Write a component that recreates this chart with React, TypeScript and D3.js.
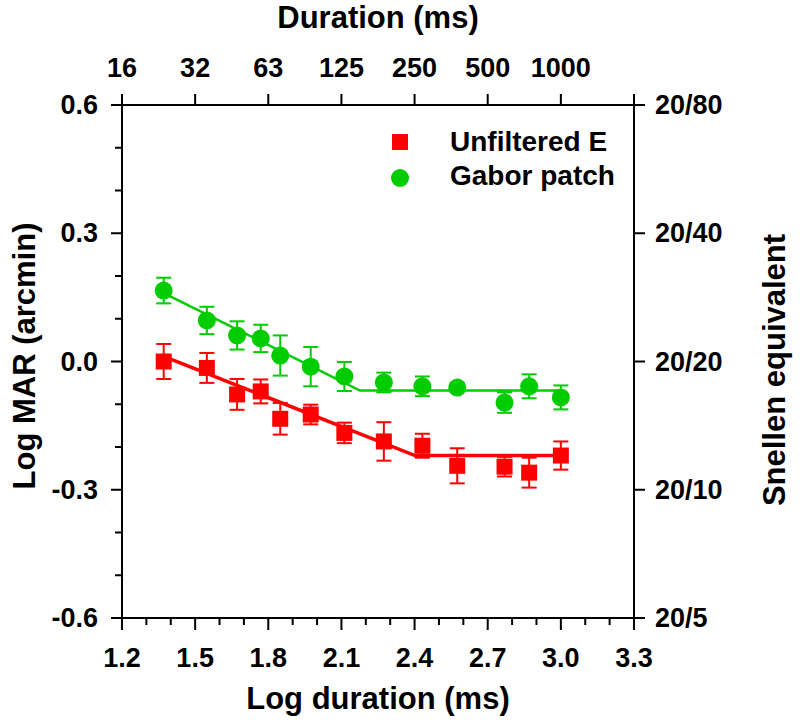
import React from "react";
import * as d3 from "d3";

// ---- data ----
const logDuration = [1.371, 1.548, 1.672, 1.769, 1.849, 1.974, 2.112, 2.274, 2.432, 2.575, 2.769, 2.87, 3.0];
const unfilteredMAR = [0.0, -0.015, -0.077, -0.07, -0.134, -0.124, -0.167, -0.187, -0.197, -0.244, -0.246, -0.26, -0.22];
const unfilteredErr = [0.041, 0.035, 0.036, 0.028, 0.037, 0.023, 0.024, 0.045, 0.028, 0.041, 0.023, 0.035, 0.033];
const gaborMAR = [0.166, 0.096, 0.061, 0.054, 0.014, -0.012, -0.035, -0.049, -0.058, -0.061, -0.096, -0.058, -0.084];
const gaborErr = [0.03, 0.032, 0.033, 0.032, 0.047, 0.046, 0.034, 0.023, 0.023, 0.01, 0.024, 0.028, 0.028];

const unfilteredFitX = [1.371, 2.402, 3.0];
const unfilteredFitY = [0.012, -0.22, -0.22];
const gaborFitX = [1.371, 2.176, 3.0];
const gaborFitY = [0.16, -0.068, -0.068];

const xMajorTicks = [1.2, 1.5, 1.8, 2.1, 2.4, 2.7, 3.0, 3.3];
const xMinorTicks = [1.3, 1.4, 1.6, 1.7, 1.9, 2.0, 2.2, 2.3, 2.5, 2.6, 2.8, 2.9, 3.1, 3.2];
const topTickLabels = ["16", "32", "63", "125", "250", "500", "1000", ""];
const yMajorTicks = [0.6, 0.3, 0.0, -0.3, -0.6];
const yMinorTicks = [0.5, 0.4, 0.2, 0.1, -0.1, -0.2, -0.4, -0.5];
const snellenLabels = ["20/80", "20/40", "20/20", "20/10", "20/5"];

const seriesNames = ["Unfiltered E", "Gabor patch"];
const RED = "#ff0000";
const GREEN = "#00cc00";
const FONT = "'Liberation Sans', Arial, Helvetica, sans-serif";

const fmt = (v: number) => (Math.abs(v) < 1e-9 ? "0.0" : v.toFixed(1));

export default function App() {
  const W = 800, H = 725;
  const x = d3.scaleLinear().domain([1.2, 3.3]).range([122, 634]);
  const y = d3.scaleLinear().domain([-0.6, 0.6]).range([618, 105]);
  const [x0, x1] = x.range();
  const [y0, y1] = y.range();

  const line = d3
    .line<[number, number]>()
    .x((d) => x(d[0]))
    .y((d) => y(d[1]));

  const redFit = unfilteredFitX.map((v, i) => [v, unfilteredFitY[i]] as [number, number]);
  const greenFit = gaborFitX.map((v, i) => [v, gaborFitY[i]] as [number, number]);

  const cap = 7.5;

  return (
    <svg
      width={W}
      height={H}
      style={{ position: "absolute", left: 0, top: 0, background: "#fff" }}
      fontFamily={FONT}
      fontWeight="bold"
    >
      <rect x={0} y={0} width={W} height={H} fill="#fff" />

      {/* frame */}
      <g stroke="#000" strokeWidth={2} fill="none">
        <line x1={x0} x2={x1} y1={y0} y2={y0} />
        <line x1={x0} x2={x1} y1={y1} y2={y1} />
        <line x1={x0} x2={x0} y1={y1} y2={y0} />
        <line x1={x1} x2={x1} y1={y1} y2={y0} />
        {xMajorTicks.map((t) => (
          <line key={"bm" + t} x1={x(t)} x2={x(t)} y1={y0} y2={y0 + 12} />
        ))}
        {xMinorTicks.map((t) => (
          <line key={"bn" + t} x1={x(t)} x2={x(t)} y1={y0} y2={y0 + 7} />
        ))}
        {xMajorTicks.map((t) => (
          <line key={"tm" + t} x1={x(t)} x2={x(t)} y1={y1} y2={y1 - 11} />
        ))}
        {yMajorTicks.map((t) => (
          <line key={"lm" + t} x1={x0} x2={x0 - 11} y1={y(t)} y2={y(t)} />
        ))}
        {yMinorTicks.map((t) => (
          <line key={"ln" + t} x1={x0} x2={x0 - 7} y1={y(t)} y2={y(t)} />
        ))}
        {yMajorTicks.map((t) => (
          <line key={"rm" + t} x1={x1} x2={x1 + 11} y1={y(t)} y2={y(t)} />
        ))}
      </g>

      {/* bottom tick labels */}
      <g fontSize={27} textAnchor="middle" fill="#000">
        {xMajorTicks.map((t) => (
          <text key={"bl" + t} x={x(t)} y={667}>
            {fmt(t)}
          </text>
        ))}
      </g>
      {/* top tick labels */}
      <g fontSize={27} textAnchor="middle" fill="#000">
        {xMajorTicks.map((t, i) => (
          <text key={"tl" + t} x={x(t)} y={77}>
            {topTickLabels[i]}
          </text>
        ))}
      </g>
      {/* left tick labels */}
      <g fontSize={27} textAnchor="end" fill="#000">
        {yMajorTicks.map((t) => (
          <text key={"ll" + t} x={98} y={y(t) + 9}>
            {fmt(t)}
          </text>
        ))}
      </g>
      {/* right tick labels */}
      <g fontSize={27} textAnchor="start" fill="#000">
        {yMajorTicks.map((t, i) => (
          <text key={"rl" + t} x={655} y={y(t) + 9}>
            {snellenLabels[i]}
          </text>
        ))}
      </g>

      {/* axis titles */}
      <text x={378} y={709} fontSize={31} textAnchor="middle">
        Log duration (ms)
      </text>
      <text x={378} y={28} fontSize={31} textAnchor="middle">
        Duration (ms)
      </text>
      <text transform="translate(35,356) rotate(-90)" fontSize={31} textAnchor="middle">
        Log MAR (arcmin)
      </text>
      <text transform="translate(785,370) rotate(-90)" fontSize={31} textAnchor="middle">
        Snellen equivalent
      </text>

      {/* fit lines */}
      <path d={line(greenFit) || ""} fill="none" stroke={GREEN} strokeWidth={2.5} />
      <path d={line(redFit) || ""} fill="none" stroke={RED} strokeWidth={3.5} />

      {/* green error bars and markers */}
      <g stroke={GREEN} strokeWidth={2}>
        {logDuration.map((v, i) => {
          const cx = x(v);
          const top = y(gaborMAR[i] + gaborErr[i]);
          const bot = y(gaborMAR[i] - gaborErr[i]);
          return (
            <g key={"ge" + i}>
              <line x1={cx} x2={cx} y1={top} y2={bot} />
              <line x1={cx - cap} x2={cx + cap} y1={top} y2={top} />
              <line x1={cx - cap} x2={cx + cap} y1={bot} y2={bot} />
            </g>
          );
        })}
      </g>
      <g fill={GREEN}>
        {logDuration.map((v, i) => (
          <circle key={"gc" + i} cx={x(v)} cy={y(gaborMAR[i])} r={9} />
        ))}
      </g>

      {/* red error bars and markers */}
      <g stroke={RED} strokeWidth={2}>
        {logDuration.map((v, i) => {
          const cx = x(v);
          const top = y(unfilteredMAR[i] + unfilteredErr[i]);
          const bot = y(unfilteredMAR[i] - unfilteredErr[i]);
          return (
            <g key={"re" + i}>
              <line x1={cx} x2={cx} y1={top} y2={bot} />
              <line x1={cx - cap} x2={cx + cap} y1={top} y2={top} />
              <line x1={cx - cap} x2={cx + cap} y1={bot} y2={bot} />
            </g>
          );
        })}
      </g>
      <g fill={RED}>
        {logDuration.map((v, i) => (
          <rect key={"rs" + i} x={x(v) - 8} y={y(unfilteredMAR[i]) - 8} width={16} height={16} />
        ))}
      </g>

      {/* legend */}
      <rect x={392} y={134} width={16} height={16} fill={RED} />
      <circle cx={400} cy={178} r={9} fill={GREEN} />
      <text x={450} y={151} fontSize={28}>
        {seriesNames[0]}
      </text>
      <text x={450} y={185} fontSize={28}>
        {seriesNames[1]}
      </text>
    </svg>
  );
}
